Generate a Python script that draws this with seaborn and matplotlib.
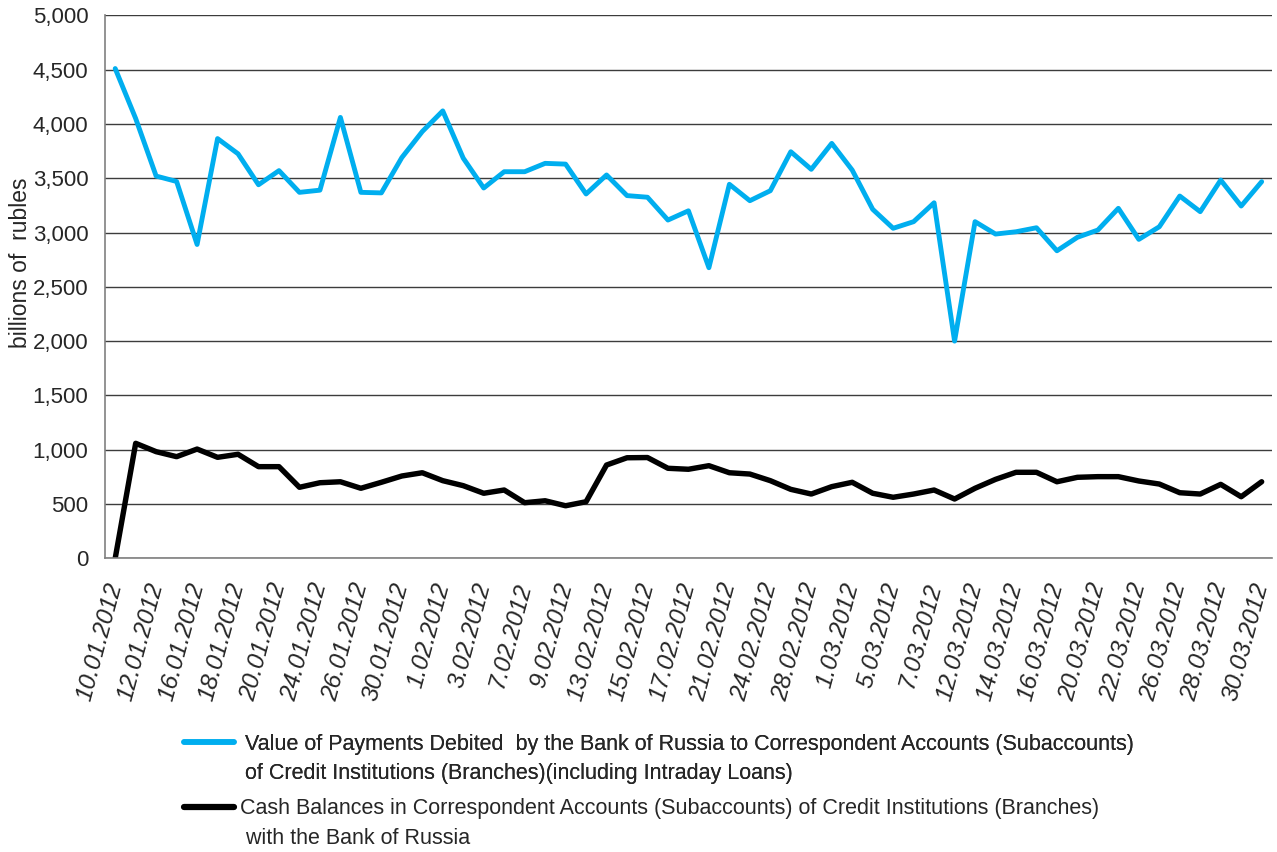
"""Payments debited vs cash balances on correspondent accounts, Jan-Mar 2012."""

import matplotlib
matplotlib.use("Agg")
import matplotlib.pyplot as plt
import matplotlib.ticker as mticker
from matplotlib.lines import Line2D
import numpy as np
import pandas as pd
import seaborn as sns

dates = [
    "10.01.2012", "11.01.2012", "12.01.2012", "13.01.2012", "16.01.2012", "17.01.2012",
    "18.01.2012", "19.01.2012", "20.01.2012", "23.01.2012", "24.01.2012", "25.01.2012",
    "26.01.2012", "27.01.2012", "30.01.2012", "31.01.2012", "1.02.2012", "2.02.2012",
    "3.02.2012", "6.02.2012", "7.02.2012", "8.02.2012", "9.02.2012", "10.02.2012",
    "13.02.2012", "14.02.2012", "15.02.2012", "16.02.2012", "17.02.2012", "20.02.2012",
    "21.02.2012", "22.02.2012", "24.02.2012", "27.02.2012", "28.02.2012", "29.02.2012",
    "1.03.2012", "2.03.2012", "5.03.2012", "6.03.2012", "7.03.2012", "11.03.2012",
    "12.03.2012", "13.03.2012", "14.03.2012", "15.03.2012", "16.03.2012", "19.03.2012",
    "20.03.2012", "21.03.2012", "22.03.2012", "23.03.2012", "26.03.2012", "27.03.2012",
    "28.03.2012", "29.03.2012", "30.03.2012",
]

payments = [
    4510, 4050, 3520, 3470, 2890, 3865, 3725, 3440, 3570, 3370, 3390, 4060,
    3370, 3365, 3690, 3930, 4120, 3685, 3410, 3560, 3560, 3637, 3630, 3355,
    3530, 3340, 3325, 3115, 3200, 2676, 3444, 3293, 3385, 3744, 3582, 3821,
    3575, 3214, 3039, 3100, 3274, 2000, 3100, 2986, 3007, 3044, 2832, 2956,
    3023, 3223, 2937, 3053, 3336, 3192, 3483, 3244, 3468,
]

balances = [
    0, 1059, 982, 936, 1006, 930, 958, 844, 844, 654, 696, 705,
    645, 700, 758, 788, 715, 669, 599, 629, 512, 530, 484, 521,
    859, 926, 928, 829, 820, 853, 788, 776, 715, 635, 592, 660,
    700, 599, 562, 592, 629, 546, 645, 727, 792, 792, 705, 746,
    752, 752, 712, 684, 604, 592, 681, 567, 705,
]

label_payments = ["Value of Payments Debited  by the Bank of Russia to Correspondent Accounts (Subaccounts)",
                  "of Credit Institutions (Branches)(including Intraday Loans)"]
label_balances = ["Cash Balances in Correspondent Accounts (Subaccounts) of Credit Institutions (Branches)",
                  " with the Bank of Russia"]

BLUE = "#00AEEF"

sns.set_style("white")
plt.rcParams["font.family"] = ["Liberation Sans", "DejaVu Sans"]

df = pd.DataFrame({"idx": np.arange(len(dates)), "date": dates,
                   "payments": payments, "balances": balances})

fig = plt.figure(figsize=(12.77, 8.52), dpi=100)
ax = fig.add_axes([0.0822, 0.3447, 0.9138, 0.6373])

sns.lineplot(data=df, x="idx", y="payments", color=BLUE, linewidth=3.5, ax=ax)
sns.lineplot(data=df, x="idx", y="balances", color="black", linewidth=3.9, ax=ax)

ax.set_xlim(-0.5, len(dates) - 0.5)
ax.set_ylim(0, 5000)
ax.set_yticks(np.arange(0, 5001, 500))
ax.yaxis.set_major_formatter(mticker.FuncFormatter(lambda v, _: f"{v:,.0f}"))
ax.yaxis.grid(True, color="#3c3c3c", linewidth=1.0)
ax.set_axisbelow(True)

ax.set_xticks(df["idx"][::2])
ax.set_xticklabels(df["date"][::2], rotation=75, ha="right", va="center",
                   rotation_mode="anchor", fontsize=17.5, style="italic")
ax.set_xticks(np.arange(-0.5, len(dates), 0.5), minor=True)
ax.tick_params(axis="x", which="both", direction="out", length=5, width=1,
               color="#808080", pad=13)
ax.tick_params(axis="y", direction="out", length=8, width=1, color="#808080",
               labelsize=16, pad=4)

for side in ["top", "right"]:
    ax.spines[side].set_visible(False)
for side in ["left", "bottom"]:
    ax.spines[side].set_color("#808080")
    ax.spines[side].set_linewidth(1.2)

ax.set_xlabel("")
ax.set_ylabel("billions of  rubles", fontsize=16.5)
ax.yaxis.set_label_coords(-0.0625, 0.544)

# legend: one per series, second line of each label as a handle-less entry
blank = Line2D([], [], color="none")
leg1 = fig.legend([Line2D([], [], color=BLUE, linewidth=4), blank], label_payments,
                  loc="upper left", bbox_to_anchor=(0.144, 0.139), frameon=False,
                  fontsize=15.5, handlelength=2.35, handletextpad=0.5,
                  labelspacing=0.4, borderpad=0, borderaxespad=0)
fig.add_artist(leg1)
fig.legend([Line2D([], [], color="black", linewidth=4.5), blank], label_balances,
           loc="upper left", bbox_to_anchor=(0.144, 0.063), frameon=False,
           fontsize=15.5, handlelength=2.35, handletextpad=0.25,
           labelspacing=0.4, borderpad=0, borderaxespad=0)

fig.savefig("out.png", dpi=100)
plt.close(fig)
